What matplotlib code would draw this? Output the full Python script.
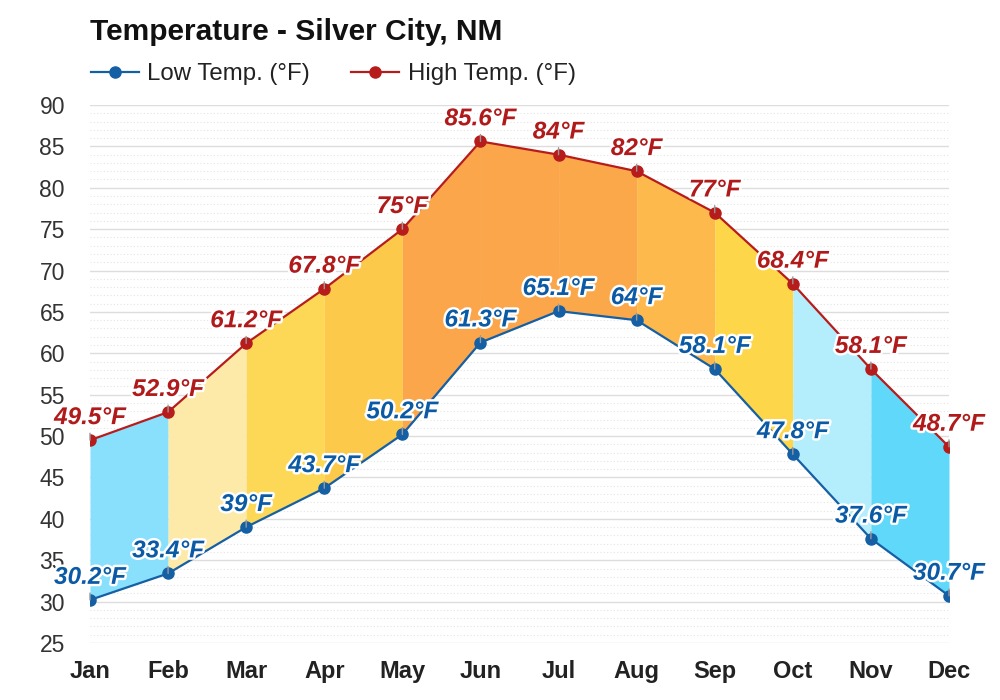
import matplotlib
matplotlib.use("Agg")
import matplotlib.pyplot as plt
import matplotlib.patheffects as pe
from matplotlib.ticker import MultipleLocator

months = ["Jan", "Feb", "Mar", "Apr", "May", "Jun", "Jul", "Aug", "Sep", "Oct", "Nov", "Dec"]
low_temp = [30.2, 33.4, 39, 43.7, 50.2, 61.3, 65.1, 64, 58.1, 47.8, 37.6, 30.7]
high_temp = [49.5, 52.9, 61.2, 67.8, 75, 85.6, 84, 82, 77, 68.4, 58.1, 48.7]
segment_colors = ["#88e0fc", "#fde9a8", "#fdd856", "#fcc94a", "#fba64a", "#fba64a",
                  "#fba84a", "#fdb94b", "#fed64a", "#b4eefc", "#60d8fa"]

plt.rcParams['font.family'] = ['Liberation Sans', 'DejaVu Sans']

fig = plt.figure(figsize=(10, 7), dpi=100)
ax = fig.add_axes([0.09, 1 - 643 / 700, 0.859, (643 - 105) / 700])

x = list(range(len(months)))
for i in range(len(months) - 1):
    ax.fill_between(x[i:i + 2], low_temp[i:i + 2], high_temp[i:i + 2],
                    color=segment_colors[i], lw=0, zorder=2)

low_c = "#155fa5"
high_c = "#b71c1c"
ax.plot(x, low_temp, color=low_c, lw=1.6, marker='o', ms=8, zorder=4,
        label="Low Temp. (°F)")
ax.plot(x, high_temp, color=high_c, lw=1.6, marker='o', ms=8, zorder=4,
        label="High Temp. (°F)")

def fmt(v):
    return (f"{v:g}") + "°F"

for xs, vals, col in [(x, low_temp, "#0b5aa5"), (x, high_temp, "#b01a1a")]:
    for xi, v in zip(xs, vals):
        ax.annotate(fmt(v), xy=(xi, v), xytext=(0, 8), textcoords='offset points',
                    ha='center', va='bottom', fontsize=17.5, fontweight='bold',
                    fontstyle='italic', color=col, zorder=6, annotation_clip=False,
                    path_effects=[pe.withStroke(linewidth=3.5, foreground='white')],
                    arrowprops=dict(arrowstyle='-', color='#999999', lw=1,
                                    shrinkA=1, shrinkB=0))

ax.set_xlim(0, 11)
ax.set_ylim(25, 90)
ax.yaxis.set_major_locator(MultipleLocator(5))
ax.yaxis.set_minor_locator(MultipleLocator(1))
ax.set_xticks(x)
ax.set_xticklabels(months, fontsize=17, fontweight='bold', color='#222222')
ax.tick_params(axis='y', labelsize=16.5, colors='#333333', length=0, pad=18, which='both')
ax.tick_params(axis='x', length=0, pad=12)
ax.grid(True, which='major', axis='y', color='#dddddd', lw=1, zorder=0)
ax.grid(True, which='minor', axis='y', color='#e4e4e4', lw=0.8, ls=(0, (1, 2)), zorder=0)
for s in ax.spines.values():
    s.set_visible(False)
ax.set_axisbelow(True)

fig.text(0.09, 1 - 32 / 700, "Temperature - Silver City, NM", fontsize=21.5,
         fontweight='bold', va='center', ha='left', color='#111111')
fig.legend(loc='center left', bbox_to_anchor=(0.079, 1 - 74 / 700), ncol=2,
           frameon=False, fontsize=17.3, handlelength=2.0, columnspacing=1.7,
           handletextpad=0.35, borderpad=0, labelcolor='#222222')

fig.savefig("out.png", dpi=100)
